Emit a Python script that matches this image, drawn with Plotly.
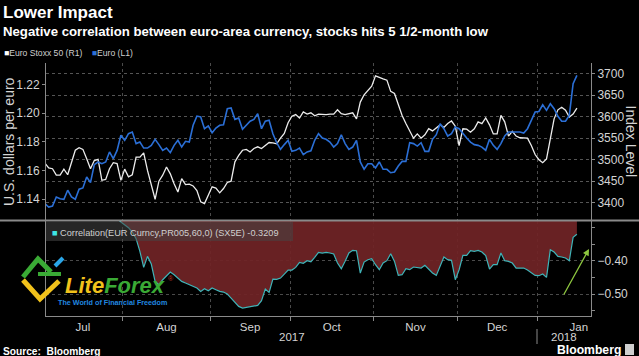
import pandas as pd
import plotly.graph_objects as go

# ---------------- data ----------------
dates = pd.bdate_range("2017-07-03", "2018-01-15")

euro = [1.1369, 1.1346, 1.1353, 1.1416, 1.1404, 1.1400, 1.1463, 1.1416, 1.1400, 1.1470,
        1.1479, 1.1555, 1.1516, 1.1641, 1.1660, 1.1648, 1.1660, 1.1730, 1.1683, 1.1741,
        1.1846, 1.1811, 1.1857, 1.1869, 1.1788, 1.1799, 1.1757, 1.1757, 1.1776, 1.1818,
        1.1781, 1.1741, 1.1757, 1.1725, 1.1776, 1.1811, 1.1764, 1.1804, 1.1799, 1.1916,
        1.1980, 1.1974, 1.1892, 1.1911, 1.1864, 1.1897, 1.1916, 1.1920, 1.2031, 1.2036,
        1.1957, 1.1966, 1.1888, 1.1920, 1.1944, 1.1957, 1.1997, 1.1892, 1.1944, 1.1951,
        1.1857, 1.1794, 1.1748, 1.1781, 1.1811, 1.1734, 1.1741, 1.1757, 1.1711, 1.1730,
        1.1738, 1.1811, 1.1857, 1.1827, 1.1818, 1.1799, 1.1764, 1.1788, 1.1850, 1.1788,
        1.1748, 1.1764, 1.1811, 1.1660, 1.1609, 1.1648, 1.1648, 1.1618, 1.1660, 1.1609,
        1.1609, 1.1585, 1.1590, 1.1632, 1.1664, 1.1664, 1.1794, 1.1788, 1.1771, 1.1794,
        1.1734, 1.1734, 1.1818, 1.1850, 1.1927, 1.1892, 1.1841, 1.1857, 1.1904, 1.1892,
        1.1857, 1.1827, 1.1799, 1.1781, 1.1776, 1.1764, 1.1741, 1.1818, 1.1776, 1.1748,
        1.1788, 1.1841, 1.1869, 1.1869, 1.1864, 1.1869, 1.1862, 1.1892, 1.1950, 1.2008,
        1.2012, 1.2059, 1.2020, 1.2066, 1.2031, 1.1978, 1.1944, 1.1944, 1.1985, 1.2206,
        1.2264]

stoxx = [3492, 3481, 3479, 3464, 3464, 3478, 3465, 3495, 3522, 3528,
         3524, 3502, 3479, 3498, 3501, 3452, 3454, 3479, 3493, 3491,
         3452, 3478, 3460, 3465, 3506, 3506, 3516, 3475, 3444, 3408,
         3450, 3464, 3483, 3467, 3444, 3425, 3456, 3442, 3443, 3439,
         3428, 3402, 3398, 3417, 3437, 3434, 3423, 3433, 3447, 3450,
         3495, 3510, 3522, 3524, 3518, 3526, 3530, 3526, 3533, 3540,
         3539, 3537, 3550, 3561, 3586, 3601, 3605, 3597, 3611, 3606,
         3609, 3602, 3606, 3605, 3605, 3606, 3606, 3616, 3607, 3605,
         3607, 3609, 3595, 3634, 3651, 3660, 3671, 3695, 3691, 3688,
         3685, 3659, 3654, 3628, 3603, 3584, 3567, 3550, 3560, 3550,
         3558, 3572, 3567, 3574, 3581, 3575, 3584, 3590, 3578, 3533,
         3572, 3571, 3564, 3572, 3588, 3584, 3597, 3581, 3560, 3560,
         3603, 3588, 3555, 3566, 3555, 3551, 3551, 3550, 3533, 3512,
         3500, 3493, 3502, 3553, 3595, 3616, 3622, 3615, 3599, 3606,
         3620]

corr = [-0.220, -0.222, -0.228, -0.232, -0.238, -0.240, -0.243, -0.248, -0.250, -0.252,
        -0.256, -0.258, -0.260, -0.262, -0.265, -0.267, -0.268, -0.270, -0.272, -0.274,
        -0.284, -0.292, -0.301, -0.314, -0.334, -0.372, -0.420, -0.387, -0.410, -0.462,
        -0.472, -0.457, -0.447, -0.434, -0.442, -0.452, -0.462, -0.467, -0.472, -0.477,
        -0.482, -0.492, -0.484, -0.490, -0.482, -0.487, -0.492, -0.494, -0.500, -0.512,
        -0.524, -0.537, -0.542, -0.540, -0.539, -0.538, -0.534, -0.520, -0.485, -0.495,
        -0.455, -0.456, -0.452, -0.440, -0.428, -0.428, -0.420, -0.405, -0.408, -0.400,
        -0.403, -0.390, -0.375, -0.377, -0.375, -0.377, -0.380, -0.407, -0.424, -0.402,
        -0.377, -0.369, -0.370, -0.437, -0.404, -0.397, -0.394, -0.412, -0.427, -0.407,
        -0.400, -0.379, -0.402, -0.444, -0.442, -0.424, -0.427, -0.419, -0.420, -0.422,
        -0.414, -0.427, -0.437, -0.444, -0.417, -0.389, -0.397, -0.399, -0.457, -0.427,
        -0.384, -0.384, -0.370, -0.372, -0.369, -0.374, -0.385, -0.425, -0.412, -0.412,
        -0.377, -0.400, -0.402, -0.407, -0.422, -0.422, -0.422, -0.428, -0.436, -0.444,
        -0.445, -0.440, -0.450, -0.367, -0.374, -0.387, -0.389, -0.392, -0.400, -0.330,
        -0.3209]

month_labels = ["Jul", "Aug", "Sep", "Oct", "Nov", "Dec", "Jan"]
month_label_dates = ["2017-07-17", "2017-08-16", "2017-09-15", "2017-10-16 12:00",
                     "2017-11-15 12:00", "2017-12-15", "2018-01-15 12:00"]
month_bounds = ["2017-07-31 12:00", "2017-08-31 12:00", "2017-09-29 12:00",
                "2017-10-31 12:00", "2017-11-30 12:00", "2017-12-29 12:00"]
year_labels = ["2017", "2018"]
year_label_dates = ["2017-10-02", "2018-01-09 12:00"]
year_bound = "2017-12-29 12:00"

euro_ticks = [1.14, 1.16, 1.18, 1.20, 1.22]
stoxx_ticks = [3400, 3450, 3500, 3550, 3600, 3650, 3700]
corr_ticks = [-0.50, -0.40]
corr_minor = [-0.55, -0.45, -0.35, -0.30]

# ---------------- style ----------------
FONT = "Liberation Sans"
TXT = "#d4d4d4"
AX = "#8a8a8a"
W, H = 639, 356
ML, MR, MT, MB = 46, 48, 63, 40
PW, PH = W - ML - MR, H - MT - MB


def px_x(p):
    return (p - ML) / PW


def px_y(p):
    return (H - MB - p) / PH


SPLIT = px_y(220.5)

fig = go.Figure()
fig.add_trace(go.Scatter(x=dates, y=stoxx, xaxis="x", yaxis="y", mode="lines",
                         line=dict(color="#ececec", width=1.3), hoverinfo="skip"))
fig.add_trace(go.Scatter(x=dates, y=euro, xaxis="x", yaxis="y2", mode="lines",
                         line=dict(color="#2b6fd6", width=1.6), hoverinfo="skip"))
fig.add_trace(go.Scatter(x=dates, y=corr, xaxis="x", yaxis="y3", mode="lines",
                         fill="tozeroy", fillcolor="rgba(112,36,38,0.93)",
                         line=dict(color="#3fb4b8", width=1.2), hoverinfo="skip"))

fig.update_layout(
    width=W, height=H,
    paper_bgcolor="black", plot_bgcolor="black",
    margin=dict(l=ML, r=MR, t=MT, b=MB, pad=0),
    showlegend=False, hovermode=False,
    font=dict(family=FONT, color=TXT),
    xaxis=dict(
        type="date", domain=[0, 1], anchor="y3",
        range=["2017-07-03 07:00", "2018-01-18 17:00"],
        rangebreaks=[dict(bounds=["sat", "mon"])],
        tickmode="array", tickvals=month_label_dates, ticktext=month_labels,
        ticks="", showgrid=False, zeroline=False,
        showline=True, linecolor=AX, linewidth=1,
        tickfont=dict(size=11.5, color=TXT),
        minor=dict(tickmode="array", tickvals=month_bounds, ticks="outside",
                   ticklen=4, tickcolor=AX, showgrid=True,
                   gridcolor="#4a4a4a", griddash="dot", gridwidth=1),
    ),
    yaxis=dict(
        domain=[SPLIT, 1], anchor="x", side="right",
        range=[3358.6, 3724.9], tickmode="array", tickvals=stoxx_ticks,
        showline=True, linecolor=AX, ticks="outside", ticklen=3, tickcolor=AX,
        showgrid=True, gridcolor="#555555", griddash="dot", gridwidth=1,
        zeroline=False, tickfont=dict(size=12, color=TXT),
    ),
    yaxis2=dict(
        overlaying="y", anchor="x", side="left",
        range=[1.1252, 1.2350], tickmode="array", tickvals=euro_ticks,
        tickformat=".2f",
        showline=True, linecolor=AX, ticks="outside", ticklen=3, tickcolor=AX,
        showgrid=False, zeroline=False, tickfont=dict(size=12, color=TXT),
    ),
    yaxis3=dict(
        domain=[0, SPLIT], anchor="x", side="right",
        range=[-0.5658, -0.2795], tickmode="array", tickvals=corr_ticks,
        tickformat=".2f",
        showline=True, mirror=True, linecolor=AX, ticks="outside", ticklen=3,
        tickcolor=AX,
        showgrid=True, gridcolor="#4a4a4a", griddash="dot", gridwidth=1,
        zeroline=False, tickfont=dict(size=12, color=TXT),
        minor=dict(tickmode="array", tickvals=corr_minor, ticks="outside",
                   ticklen=3, tickcolor=AX, showgrid=False),
    ),
)

shapes = [
    # panel separator
    dict(type="line", xref="paper", yref="paper", x0=px_x(0), x1=px_x(W),
         y0=SPLIT, y1=SPLIT, line=dict(color="#8a8a8a", width=2)),
    # correlation legend box
    dict(type="rect", xref="paper", yref="paper", x0=0, x1=px_x(293),
         y0=px_y(241), y1=px_y(222), fillcolor="rgba(70,70,70,0.55)",
         line=dict(width=0), layer="above"),
    # year separator
    dict(type="line", xref="x", yref="paper", x0=year_bound, x1=year_bound,
         y0=px_y(329), y1=px_y(344), line=dict(color=AX, width=1)),
    # watermark icon
    dict(type="path", xref="paper", yref="paper", layer="above",
         path=f"M {px_x(23)},{px_y(280)} L {px_x(40)},{px_y(299)} L {px_x(59)},{px_y(281)}",
         line=dict(color="#f2c21b", width=5)),
    dict(type="path", xref="paper", yref="paper", layer="above",
         path=f"M {px_x(23)},{px_y(277)} L {px_x(38)},{px_y(259)} L {px_x(51)},{px_y(272)}",
         line=dict(color="#3aaa35", width=5)),
    dict(type="path", xref="paper", yref="paper", layer="above",
         path=f"M {px_x(38)},{px_y(274)} L {px_x(61)},{px_y(274)}",
         line=dict(color="#3aaa35", width=4)),
    dict(type="path", xref="paper", yref="paper", layer="above",
         path=f"M {px_x(55)},{px_y(266)} L {px_x(63)},{px_y(258)}",
         line=dict(color="#2aa6e8", width=4)),
    # Bloomberg icon
    dict(type="rect", xref="paper", yref="paper", x0=px_x(625), x1=px_x(634),
         y0=px_y(355), y1=px_y(344), fillcolor="#cfcfcf", line=dict(width=0)),
]
fig.update_layout(shapes=shapes)

ann = [
    dict(text="<b>Lower Impact</b>", x=px_x(1), y=px_y(12.5), xanchor="left",
         yanchor="middle", font=dict(size=17, color="white")),
    dict(text="<b>Negative correlation between euro-area currency, stocks hits 5 1/2-month low</b>",
         x=px_x(1), y=px_y(31.5), xanchor="left", yanchor="middle",
         font=dict(size=13.2, color="white")),
    dict(text="<span style='color:#ffffff'>■</span>Euro Stoxx 50 (R1)    "
              "<span style='color:#2b6fd6'>■</span>Euro (L1)",
         x=px_x(2), y=px_y(53), xanchor="left", yanchor="middle",
         font=dict(size=8.6, color="#cfcfcf")),
    dict(text="U.S. dollars per euro", x=px_x(9), y=px_y(142), textangle=-90,
         xanchor="center", yanchor="middle", font=dict(size=14, color=TXT)),
    dict(text="Index Level", x=px_x(631), y=px_y(141.5), textangle=90,
         xanchor="center", yanchor="middle", font=dict(size=14, color=TXT)),
    dict(text="<span style='color:#3ee6e6'>■</span> Correlation(EUR Curncy,PR005,60,0) (SX5E) -0.3209",
         x=px_x(50), y=px_y(232.5), xanchor="left", yanchor="middle",
         font=dict(size=9.2, color="#d0d0d0")),
    dict(text="<b>Source:  Bloomberg</b>", x=px_x(1), y=px_y(351), xanchor="left",
         yanchor="middle", font=dict(size=10.2, color="white")),
    dict(text="<b>Bloomberg</b>", x=px_x(623), y=px_y(350), xanchor="right",
         yanchor="middle", font=dict(size=12.2, color="white")),
    dict(text="<b><i><span style='color:#f2c21b'>Lite</span><span style='color:#3aaa35'>Forex</span></i></b>",
         x=px_x(115), y=px_y(285), xanchor="center", yanchor="middle",
         font=dict(size=22)),
    dict(text="®", x=px_x(171), y=px_y(278), xanchor="center", yanchor="middle",
         font=dict(size=7, color="#c0392b")),
    dict(text="<b>The World of Financial Freedom</b>", x=px_x(112), y=px_y(302),
         xanchor="center", yanchor="middle", font=dict(size=7.2, color="#2188e0")),
    dict(text="", x=px_x(589), y=px_y(249), ax=-26, ay=47, showarrow=True,
         arrowcolor="#8dc63f", arrowwidth=1.3, arrowhead=2, arrowsize=1),
]
for lbl, d in zip(year_labels, year_label_dates):
    ann.append(dict(text=lbl, x=d, xref="x", y=px_y(337), yref="paper",
                    xanchor="center", yanchor="middle", showarrow=False,
                    font=dict(size=11.5, color=TXT)))
for a in ann:
    a.setdefault("xref", "paper")
    a.setdefault("yref", "paper")
    a.setdefault("showarrow", False)
fig.update_layout(annotations=ann)

# remove the browser's default 8px body margin so the figure sits at the page origin
fig.write_html("out.html",
               config={"displayModeBar": False, "staticPlot": True},
               post_script="document.body.style.margin='0';document.body.style.overflow='hidden';")
